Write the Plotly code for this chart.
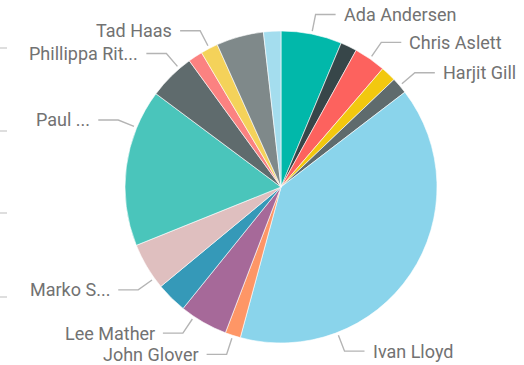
import math
import plotly.graph_objects as go

# Sales share per person (percent), in slice order starting at 12 o'clock
names = ["Ada Andersen", "Ben Carter", "Chris Aslett", "Dana Fox", "Harjit Gill",
         "Ivan Lloyd", "John Glover", "Lee Mather", "Lena Moss", "Marko Sokolov",
         "Paul Henderson", "Phillippa Ritchie", "Sam Ortiz", "Tad Haas", "Tom Reyes",
         "Zoe Walsh"]
values = [6.3, 1.7, 3.3, 1.6, 1.7, 39.6, 1.6, 5.0, 3.2, 4.9,
          16.3, 4.8, 1.5, 1.8, 4.9, 1.8]
# Labels that fit get drawn; the rest stay hidden
shown = ["Ada Andersen", "", "Chris Aslett", "", "Harjit Gill",
         "Ivan Lloyd", "John Glover", "Lee Mather", "", "Marko S...",
         "Paul ...", "Phillippa Rit...", "", "Tad Haas", "", ""]
colors = ["#01B8AA", "#374649", "#FD625E", "#F2C80F", "#5F6B6D", "#8AD4EB",
          "#FE9666", "#A66999", "#3599B8", "#DFBFBF", "#4AC5BB", "#5F6B6D",
          "#FB8281", "#F4D25A", "#7F898A", "#A4DDEE"]

# Leader-line anchor shifts (degrees) so labels don't collide
label_shift = {"Ivan Lloyd": 35, "Paul ...": 15, "Marko S...": -5,
               "Phillippa Rit...": 4, "Lee Mather": 4}

W, H = 524, 365
CX, CY, R = 281, 187, 156

fig = go.Figure()
fig.add_trace(go.Pie(
    labels=names, values=values, sort=False, direction="clockwise", rotation=0,
    marker=dict(colors=colors, line=dict(color="white", width=0.6)),
    textinfo="none", hoverinfo="label+percent", showlegend=False,
    domain=dict(x=[(CX - R) / W, (CX + R) / W],
                y=[1 - (CY + R) / H, 1 - (CY - R) / H]),
))

# Leader lines with an elbow, anchored inside each labelled slice
total = sum(values)
cum = 0.0
annotations = []
for v, lab in zip(values, shown):
    mid_deg = (cum + v / 2) / total * 360
    cum += v
    if not lab:
        continue
    a = math.radians(mid_deg + label_shift.get(lab, 0))
    s, c = math.sin(a), math.cos(a)
    x1, y1 = CX + (R + 3) * s, CY - (R + 3) * c
    x2, y2 = CX + (R + 20) * s, CY - (R + 20) * c
    side = 1 if s > 0 else -1
    x3 = x2 + side * 20
    fig.add_trace(go.Scatter(
        x=[x1, x2, x3], y=[y1, y2, y2], mode="lines",
        line=dict(color="#b4b4b4", width=1.4), hoverinfo="skip", showlegend=False))
    annotations.append(dict(
        x=x3 + side * 6, y=y2, xref="x", yref="y", text=lab, showarrow=False,
        xanchor="left" if side > 0 else "right", yanchor="middle",
        font=dict(family="Roboto", size=18, color="#727272")))

# short gridline stubs along the left edge
for yy in [48, 131, 213, 297]:
    fig.add_shape(type="line", x0=0, x1=7, y0=yy, y1=yy, xref="x", yref="y",
                  line=dict(color="#c8c8c8", width=1.2))

fig.update_layout(
    width=W, height=H, margin=dict(l=0, r=0, t=0, b=0),
    paper_bgcolor="white", plot_bgcolor="rgba(0,0,0,0)",
    xaxis=dict(range=[0, W], visible=False, fixedrange=True),
    yaxis=dict(range=[H, 0], visible=False, fixedrange=True),
    annotations=annotations,
)

fig.write_html("out.html")
